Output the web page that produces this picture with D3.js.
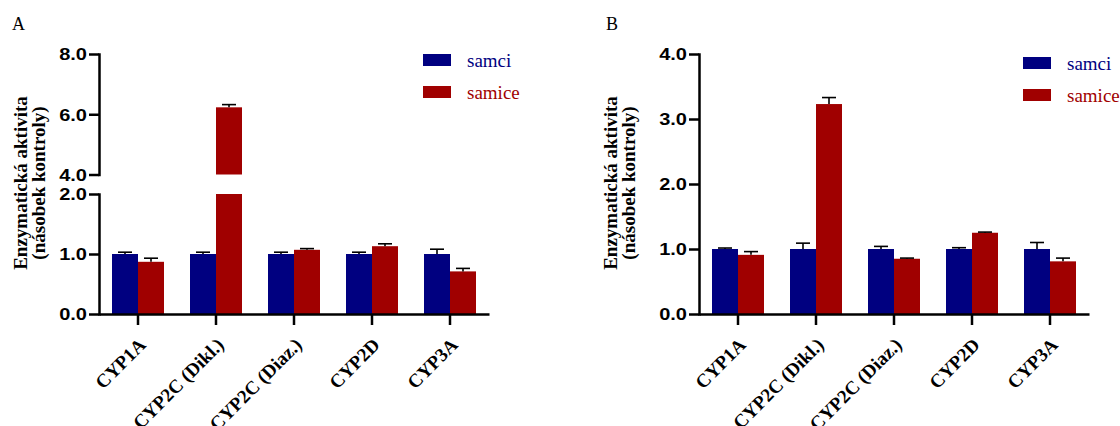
<!DOCTYPE html>
<html>
<head>
<meta charset="utf-8">
<script src="https://cdn.jsdelivr.net/npm/d3@7"></script>
<style>
  html, body { margin: 0; padding: 0; background: #fff; }
  svg { display: block; }
</style>
</head>
<body>
<div id="chart"></div>
<script>
// data
var categories = ["CYP1A", "CYP2C (Dikl.)", "CYP2C (Diaz.)", "CYP2D", "CYP3A"];
var seriesNames = ["samci", "samice"];

var aSamci = [1.00, 1.00, 1.00, 1.00, 1.00];
var aSamciErr = [0.03, 0.03, 0.03, 0.03, 0.08];
var aSamice = [0.87, 6.23, 1.07, 1.13, 0.71];
var aSamiceErr = [0.06, 0.09, 0.02, 0.04, 0.05];

var bSamci = [1.00, 1.00, 1.00, 1.00, 1.00];
var bSamciErr = [0.015, 0.09, 0.04, 0.02, 0.10];
var bSamice = [0.91, 3.23, 0.85, 1.25, 0.81];
var bSamiceErr = [0.05, 0.10, 0.01, 0.01, 0.05];

var aTicksLow = [0, 1, 2];
var aTicksHigh = [4, 6, 8];
var bTicks = [0, 1, 2, 3, 4];

// styles
var colors = ["#000080", "#a00000"];
var serif = "'Liberation Serif', 'Times New Roman', serif";
var sans = "'Liberation Sans', Arial, sans-serif";
var axisW = 2.5;
var stretch = 1.25;   // tick numbers are drawn wide in the source

var svg = d3.select("#chart").append("svg")
    .attr("width", 1120)
    .attr("height", 426);

svg.append("rect").attr("width", 1120).attr("height", 426).attr("fill", "#fff");

function drawPanel(p) {
  var g = svg.append("g");

  // panel letter
  g.append("text")
    .attr("x", p.letterX).attr("y", 30)
    .style("font-family", serif).style("font-size", "18px")
    .text(p.letter);

  // x scales
  var x0 = d3.scaleBand()
    .domain(categories)
    .range([p.left, p.left + 390])
    .paddingInner(1 / 3)
    .paddingOuter(1 / 6);
  var x1 = d3.scaleBand()
    .domain(seriesNames)
    .range([0, x0.bandwidth()]);

  // bars
  p.series.forEach(function(s, si) {
    s.values.forEach(function(v, i) {
      var bx = x0(categories[i]) + x1(seriesNames[si]);
      var bw = x1.bandwidth();
      p.segments.forEach(function(seg) {
        if (v <= seg.y.domain()[0]) return;
        var top = Math.min(v, seg.y.domain()[1]);
        g.append("rect")
          .attr("x", bx).attr("width", bw)
          .attr("y", seg.y(top))
          .attr("height", seg.y(seg.y.domain()[0]) - seg.y(top))
          .attr("fill", colors[si]);
      });
      // error bar (upper only)
      var seg = p.segments.filter(function(sg) {
        return v >= sg.y.domain()[0] && v <= sg.y.domain()[1];
      })[0];
      var e = s.errs[i];
      var cx = bx + bw / 2;
      g.append("line")
        .attr("x1", cx).attr("x2", cx)
        .attr("y1", seg.y(v)).attr("y2", seg.y(v + e))
        .attr("stroke", "#000").attr("stroke-width", 1.6);
      g.append("line")
        .attr("x1", cx - 7).attr("x2", cx + 7)
        .attr("y1", seg.y(v + e)).attr("y2", seg.y(v + e))
        .attr("stroke", "#000").attr("stroke-width", 1.6);
    });
  });

  // y axis segments
  p.segments.forEach(function(seg) {
    var ax = g.append("g")
      .attr("transform", "translate(" + p.left + ",0)")
      .call(d3.axisLeft(seg.y)
        .tickValues(seg.ticks)
        .tickSize(10)
        .tickSizeOuter(0)
        .tickPadding(3)
        .tickFormat(d3.format(".1f")));
    ax.select(".domain").attr("stroke-width", axisW).attr("stroke-linecap", "square");
    ax.selectAll(".tick line").attr("stroke-width", axisW);
    ax.selectAll(".tick text")
      .attr("x", -12 / stretch)
      .attr("transform", "scale(" + stretch + ",1)")
      .attr("dy", "0.36em")
      .style("font-family", sans)
      .style("font-weight", "bold")
      .style("font-size", "16px")
      .attr("fill", "#000");
  });

  // x axis
  var xa = g.append("g")
    .attr("transform", "translate(0," + p.baseY + ")")
    .call(d3.axisBottom(x0).tickSize(11).tickSizeOuter(0));
  xa.select(".domain").attr("stroke-width", axisW);
  xa.selectAll(".tick line").attr("stroke-width", axisW);
  xa.selectAll(".tick text")
    .attr("y", 0).attr("dy", 0)
    .attr("text-anchor", "end")
    .attr("transform", "translate(9,32) rotate(-45)")
    .style("font-family", serif)
    .style("font-weight", "bold")
    .style("font-size", "19px")
    .attr("fill", "#000");

  // y axis title
  var t = g.append("text")
    .attr("transform", "translate(" + p.titleX + ",183) rotate(-90)")
    .attr("text-anchor", "middle")
    .style("font-family", serif)
    .style("font-weight", "bold")
    .style("font-size", "19px");
  t.append("tspan").attr("x", 0).attr("y", 0).text("Enzymatická aktivita");
  t.append("tspan").attr("x", 0).attr("y", 18).text("(násobek kontroly)");

  // legend
  seriesNames.forEach(function(name, si) {
    var ly = p.legendY + si * 32;
    g.append("rect")
      .attr("x", p.legendX).attr("y", ly)
      .attr("width", 28).attr("height", 12)
      .attr("fill", colors[si]);
    g.append("text")
      .attr("x", p.legendX + 44).attr("y", ly + 12.5)
      .style("font-family", serif)
      .style("font-size", "19px")
      .attr("fill", colors[si])
      .text(name);
  });
}

// panel A: broken axis
drawPanel({
  letter: "A", letterX: 12,
  left: 99, baseY: 314, titleX: 27,
  legendX: 423, legendY: 54,
  series: [{ values: aSamci, errs: aSamciErr }, { values: aSamice, errs: aSamiceErr }],
  segments: [
    { y: d3.scaleLinear().domain([0, 2]).range([314, 194]), ticks: aTicksLow },
    { y: d3.scaleLinear().domain([4, 8]).range([174.5, 54]), ticks: aTicksHigh }
  ]
});

// panel B
drawPanel({
  letter: "B", letterX: 606,
  left: 699, baseY: 314, titleX: 617,
  legendX: 1023, legendY: 57,
  series: [{ values: bSamci, errs: bSamciErr }, { values: bSamice, errs: bSamiceErr }],
  segments: [
    { y: d3.scaleLinear().domain([0, 4]).range([314, 54]), ticks: bTicks }
  ]
});
</script>
</body>
</html>
